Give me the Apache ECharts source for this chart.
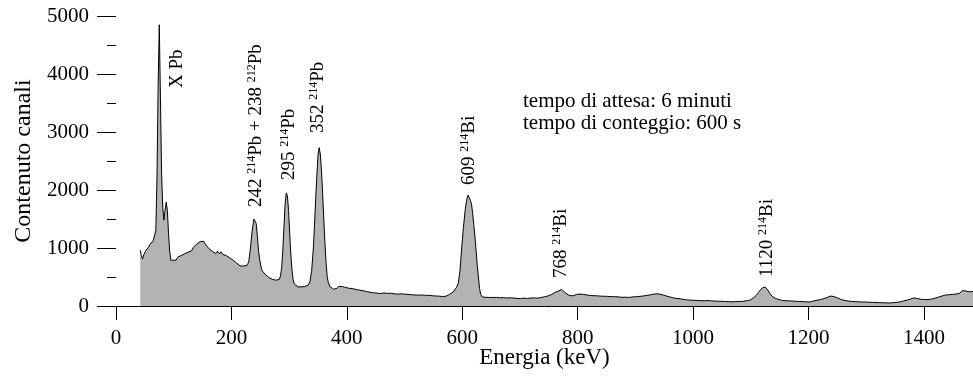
<!DOCTYPE html>
<html>
<head>
<meta charset="utf-8">
<script src="https://cdn.jsdelivr.net/npm/echarts@6/dist/echarts.min.js"></script>
<style>
  html, body { margin: 0; padding: 0; background: #fff; }
  #container { width: 973px; height: 376px; }
</style>
</head>
<body>
<div id="container"></div>
<script>
// Spettro gamma: energia (keV) e contenuto dei canali
var energia = [
  42, 44, 46, 48, 50, 52, 54, 56, 58, 60, 62, 64, 66, 67, 69, 71, 73, 75, 77, 79,
  81, 83, 85, 87, 89, 91, 93, 95, 97, 99, 101, 104, 107, 110, 113, 116, 119, 122, 125, 128,
  131, 134, 137, 140, 143, 146, 149, 152, 155, 158, 161, 164, 167, 170, 173, 176, 179, 182, 185, 188,
  191, 194, 197, 200, 203, 206, 209, 212, 215, 218, 221, 224, 227, 230, 233, 236, 239, 241, 243, 245,
  247, 249, 251, 253, 256, 259, 262, 265, 268, 271, 274, 277, 280, 283, 285, 287, 289, 291, 293, 295,
  297, 299, 301, 303, 305, 307, 309, 312, 315, 318, 321, 324, 327, 330, 333, 336, 339, 342, 344, 346,
  348, 350, 352, 354, 356, 358, 360, 362, 364, 366, 368, 371, 374, 377, 380, 383, 386, 389, 392, 395,
  398, 401, 404, 407, 410, 413, 416, 419, 422, 425, 428, 431, 434, 437, 440, 443, 446, 449, 452, 455,
  458, 461, 464, 467, 470, 473, 476, 479, 482, 485, 488, 491, 494, 497, 500, 503, 506, 509, 512, 515,
  518, 521, 524, 527, 530, 533, 536, 539, 542, 545, 548, 551, 554, 557, 560, 563, 566, 569, 572, 575,
  578, 581, 584, 587, 590, 593, 596, 599, 602, 605, 608, 610, 612, 614, 616, 618, 620, 622, 624, 626,
  628, 630, 632, 635, 638, 641, 644, 647, 650, 653, 656, 659, 662, 665, 668, 671, 674, 677, 680, 683,
  686, 689, 692, 695, 698, 701, 704, 707, 710, 713, 716, 719, 722, 725, 728, 731, 734, 737, 740, 743,
  746, 749, 752, 755, 758, 761, 764, 767, 770, 772, 774, 776, 778, 780, 783, 786, 789, 792, 795, 798,
  801, 804, 807, 810, 813, 816, 819, 822, 825, 828, 831, 834, 837, 840, 843, 846, 849, 852, 855, 858,
  861, 864, 867, 870, 873, 876, 879, 882, 885, 888, 891, 894, 897, 900, 903, 906, 909, 912, 915, 918,
  921, 924, 927, 930, 933, 936, 939, 942, 945, 948, 951, 954, 957, 960, 963, 966, 969, 972, 975, 978,
  981, 984, 987, 990, 993, 996, 999, 1002, 1005, 1008, 1011, 1014, 1017, 1020, 1023, 1026, 1029, 1032, 1035, 1038,
  1041, 1044, 1047, 1050, 1053, 1056, 1059, 1062, 1065, 1068, 1071, 1074, 1077, 1080, 1083, 1086, 1089, 1092, 1095, 1098,
  1101, 1104, 1107, 1110, 1113, 1116, 1119, 1121, 1123, 1125, 1127, 1129, 1131, 1133, 1135, 1137, 1140, 1143, 1146, 1149,
  1152, 1155, 1158, 1161, 1164, 1167, 1170, 1173, 1176, 1179, 1182, 1185, 1188, 1191, 1194, 1197, 1200, 1203, 1206, 1209,
  1212, 1215, 1218, 1221, 1224, 1227, 1230, 1233, 1236, 1239, 1242, 1245, 1248, 1251, 1254, 1257, 1260, 1263, 1266, 1269,
  1272, 1275, 1278, 1281, 1284, 1287, 1290, 1293, 1296, 1299, 1302, 1305, 1308, 1311, 1314, 1317, 1320, 1323, 1326, 1329,
  1332, 1335, 1338, 1341, 1344, 1347, 1350, 1353, 1356, 1359, 1362, 1365, 1368, 1371, 1374, 1377, 1380, 1383, 1386, 1389,
  1392, 1395, 1398, 1401, 1404, 1407, 1410, 1413, 1416, 1419, 1422, 1425, 1428, 1431, 1434, 1437, 1440, 1443, 1446, 1449,
  1452, 1455, 1458, 1461, 1464, 1467, 1470, 1473, 1476, 1479, 1482, 1485
];
var conteggi = [
  960, 870, 810, 880, 900, 960, 940, 1010, 1030, 1080, 1070, 1110, 1130, 1140, 1300, 2200, 3800, 4850, 3600, 2300,
  1700, 1480, 1650, 1790, 1650, 1250, 950, 790, 770, 790, 810, 790, 845, 820, 870, 860, 900, 875, 930, 925,
  950, 1010, 1030, 1070, 1060, 1110, 1080, 1115, 1060, 1070, 990, 975, 940, 950, 905, 945, 900, 935, 890, 920,
  870, 900, 830, 850, 790, 810, 740, 730, 690, 715, 690, 705, 700, 760, 1000, 1300, 1500, 1520, 1420, 1200,
  950, 800, 690, 610, 585, 540, 525, 490, 500, 460, 475, 445, 450, 460, 520, 650, 950, 1350, 1750, 1950,
  1900, 1650, 1250, 880, 620, 450, 380, 350, 330, 345, 330, 345, 335, 355, 360, 420, 600, 1000, 1400, 1850,
  2250, 2600, 2730, 2620, 2350, 1950, 1500, 1100, 750, 500, 400, 330, 300, 290, 315, 305, 340, 325, 335, 310,
  320, 290, 305, 280, 300, 270, 285, 262, 275, 250, 262, 240, 250, 228, 238, 215, 228, 205, 222, 200,
  215, 195, 225, 205, 218, 198, 220, 190, 210, 185, 205, 195, 210, 185, 205, 180, 200, 178, 195, 180,
  190, 170, 188, 175, 190, 168, 185, 170, 182, 165, 178, 160, 172, 150, 170, 145, 162, 150, 170, 180,
  200, 225, 240, 270, 320, 390, 600, 1000, 1350, 1650, 1850, 1910, 1890, 1820, 1760, 1600, 1400, 1190, 950, 700,
  500, 300, 200, 155, 175, 150, 172, 148, 168, 145, 165, 150, 162, 140, 165, 145, 160, 138, 158, 142,
  160, 138, 152, 130, 150, 128, 148, 135, 152, 130, 155, 138, 158, 140, 160, 135, 162, 148, 165, 160,
  170, 175, 185, 200, 215, 235, 245, 260, 275, 285, 265, 250, 230, 215, 200, 180, 195, 175, 195, 200,
  215, 205, 225, 200, 215, 190, 205, 180, 198, 178, 195, 175, 192, 170, 190, 168, 188, 165, 185, 162,
  182, 160, 178, 158, 175, 150, 170, 152, 168, 148, 170, 155, 172, 160, 182, 165, 185, 170, 192, 180,
  198, 190, 215, 200, 222, 212, 225, 205, 212, 190, 195, 172, 178, 155, 162, 140, 150, 130, 140, 125,
  128, 112, 122, 105, 118, 100, 115, 98, 112, 95, 110, 92, 108, 90, 112, 95, 105, 88, 102, 85,
  100, 82, 98, 80, 95, 78, 92, 75, 90, 72, 88, 75, 92, 78, 95, 80, 98, 90, 105, 100,
  120, 135, 155, 190, 230, 270, 300, 320, 310, 325, 300, 280, 250, 220, 190, 165, 145, 130, 120, 110,
  112, 95, 108, 90, 105, 88, 102, 85, 100, 80, 98, 78, 95, 75, 92, 72, 85, 70, 80, 88,
  85, 100, 95, 112, 110, 128, 130, 150, 155, 172, 165, 160, 140, 135, 115, 110, 90, 95, 78, 85,
  72, 80, 65, 75, 62, 72, 60, 70, 58, 68, 55, 65, 52, 62, 50, 60, 48, 58, 45, 55,
  45, 55, 42, 52, 45, 58, 50, 62, 58, 72, 70, 88, 85, 102, 100, 120, 115, 140, 125, 128,
  110, 115, 100, 112, 98, 110, 102, 118, 112, 135, 130, 152, 150, 172, 165, 188, 180, 195, 178, 200,
  185, 205, 192, 215, 230, 265, 275, 258, 265, 245, 265, 250
];
var yTicks = [0, 1000, 2000, 3000, 4000, 5000];

var serif = "'Liberation Serif', 'Times New Roman', serif";

var punti = energia.map(function (e, i) { return [e, conteggi[i]]; });

// etichette ruotate dei picchi (testo ricco per gli apici)
var supRich = {
  n: { fontFamily: serif, fontSize: 19, color: '#000', lineHeight: 20 },
  s: { fontFamily: serif, fontSize: 12, color: '#000', lineHeight: 12, verticalAlign: 'top' }
};
function picco(x, y, testo) {
  return {
    type: 'text',
    x: x,
    y: y,
    rotation: Math.PI / 2,
    silent: true,
    style: {
      text: testo,
      rich: supRich,
      align: 'left',
      verticalAlign: 'middle',
      fill: '#000'
    }
  };
}

var myChart = echarts.init(document.getElementById('container'));
var option = {
    animation: false,
    backgroundColor: '#fff',
    grid: {
        left: 116,
        right: 0,
        top: 16,
        bottom: 70,
        outerBoundsMode: 'none'
    },
    xAxis: {
        type: 'value',
        min: 0,
        max: 1485,
        interval: 200,
        name: 'Energia (keV)',
        nameLocation: 'middle',
        nameGap: 40,
        nameMoveOverlap: false,
        nameTextStyle: { fontFamily: serif, fontSize: 23, color: '#000' },
        axisLine: { show: true, lineStyle: { color: '#000', width: 1 } },
        axisTick: { show: true, length: 14, lineStyle: { color: '#000', width: 1 } },
        axisLabel: {
            fontFamily: serif, fontSize: 21, color: '#000', margin: 22, showMaxLabel: false,
            formatter: function (v) { return String(v); }
        },
        splitLine: { show: false }
    },
    yAxis: {
        type: 'value',
        min: 0,
        max: 5000,
        interval: 1000,
        name: 'Contenuto canali',
        nameLocation: 'middle',
        nameGap: 80,
        nameTextStyle: { fontFamily: serif, fontSize: 24, color: '#000' },
        axisLine: { show: false },
        axisTick: { show: true, length: 19, lineStyle: { color: '#000', width: 1 } },
        minorTick: { show: true, splitNumber: 2, length: 9, lineStyle: { color: '#000', width: 1 } },
        axisLabel: {
            fontFamily: serif, fontSize: 21, color: '#000', margin: 27,
            formatter: function (v) { return yTicks.indexOf(v) >= 0 ? String(v) : ''; }
        },
        splitLine: { show: false }
    },
    graphic: [
        picco(177, 88, '{n|X Pb}'),
        picco(256, 207, '{n|242 }{s|214}{n|Pb + 238 }{s|212}{n|Pb}'),
        picco(289, 180, '{n|295 }{s|214}{n|Pb}'),
        picco(318, 133, '{n|352 }{s|214}{n|Pb}'),
        picco(469, 185, '{n|609 }{s|214}{n|Bi}'),
        picco(561, 278, '{n|768 }{s|214}{n|Bi}'),
        picco(767, 277, '{n|1120 }{s|214}{n|Bi}'),
        {
            type: 'text', x: 523, y: 101, silent: true,
            style: { text: 'tempo di attesa: 6 minuti', font: '21px ' + serif, fill: '#000', verticalAlign: 'middle' }
        },
        {
            type: 'text', x: 523, y: 123, silent: true,
            style: { text: 'tempo di conteggio: 600 s', font: '21px ' + serif, fill: '#000', verticalAlign: 'middle' }
        }
    ],
    series: [
        {
            name: 'Spettro',
            type: 'line',
            data: punti,
            showSymbol: false,
            silent: true,
            lineStyle: { color: '#000', width: 1 },
            areaStyle: { color: '#b3b3b3', opacity: 1 }
        }
    ]
};
myChart.setOption(option);
</script>
</body>
</html>
